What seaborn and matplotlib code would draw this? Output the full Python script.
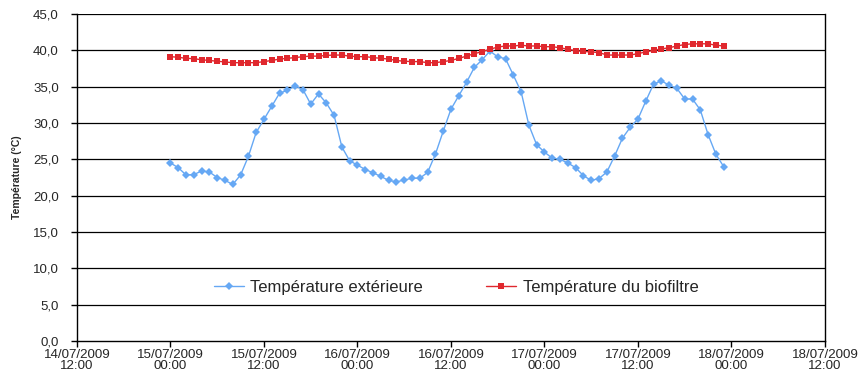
import matplotlib
matplotlib.use("Agg")
import matplotlib.pyplot as plt
import matplotlib.transforms as mtransforms
import seaborn as sns
import pandas as pd
import numpy as np

start = "2009-07-15 00:00"
n_hours = 72

temp_ext = [24.5, 23.85, 22.85, 22.9, 23.4, 23.25, 22.5, 22.1, 21.55, 22.85, 25.4, 28.7,
            30.5, 32.3, 34.1, 34.5, 35.1, 34.6, 32.6, 34.0, 32.75, 31.05, 26.7, 24.8,
            24.2, 23.6, 23.15, 22.65, 22.1, 21.9, 22.15, 22.4, 22.4, 23.2, 25.7, 28.85,
            31.9, 33.75, 35.6, 37.65, 38.7, 39.9, 39.1, 38.85, 36.6, 34.3, 29.7, 27.0,
            26.0, 25.15, 25.0, 24.5, 23.85, 22.75, 22.1, 22.35, 23.25, 25.45, 27.9, 29.4,
            30.55, 33.0, 35.35, 35.8, 35.2, 34.75, 33.3, 33.3, 31.8, 28.4, 25.7, 24.0]

temp_bio = [39.13, 39.04, 38.9, 38.85, 38.7, 38.6, 38.5, 38.4, 38.3, 38.3, 38.3, 38.3,
            38.45, 38.6, 38.8, 38.9, 39.0, 39.13, 39.2, 39.2, 39.3, 39.35, 39.35, 39.2,
            39.13, 39.13, 39.0, 38.9, 38.8, 38.6, 38.5, 38.45, 38.45, 38.3, 38.3, 38.45,
            38.6, 38.9, 39.2, 39.55, 39.8, 40.15, 40.45, 40.6, 40.6, 40.7, 40.6, 40.6,
            40.5, 40.5, 40.35, 40.15, 39.95, 39.85, 39.77, 39.7, 39.35, 39.35, 39.35, 39.35,
            39.55, 39.77, 40.0, 40.2, 40.35, 40.6, 40.8, 40.9, 40.9, 40.9, 40.7, 40.6]

label_ext = "Température extérieure"
label_bio = "Température du biofiltre"
y_label = "Température (°C)"
y_ticks = [0, 5, 10, 15, 20, 25, 30, 35, 40, 45]

times = pd.date_range(start, periods=n_hours, freq="h")
df = pd.DataFrame({"time": times, "ext": temp_ext, "bio": temp_bio})

sns.set_style("white")
plt.rcParams["font.family"] = ["Liberation Sans", "DejaVu Sans"]

fig = plt.figure(figsize=(8.58, 3.74), dpi=100)
ax = fig.add_axes([0.0897, 0.0882, 0.9615 - 0.0897, 0.9626 - 0.0882])

sns.lineplot(data=df, x="time", y="ext", ax=ax, color="#66A8F4", marker="D",
             markersize=4.5, markeredgewidth=0, linewidth=1.0, label=label_ext)
sns.lineplot(data=df, x="time", y="bio", ax=ax, color="#E0282E", marker="s",
             markersize=5, markeredgewidth=0, linewidth=1.0, label=label_bio)

x0 = pd.Timestamp("2009-07-14 12:00")
x1 = pd.Timestamp("2009-07-18 12:00")
ax.set_xlim(x0, x1)
ax.set_ylim(0, 45)
ax.set_yticks(y_ticks)
ax.set_yticklabels([f"{v:.1f}".replace(".", ",") for v in y_ticks], fontsize=9.5)
xt = pd.date_range(x0, x1, freq="12h")
ax.set_xticks(xt)
xlabels = ax.set_xticklabels([t.strftime("%d/%m/%Y\n%H:%M") for t in xt], fontsize=9.6,
                             linespacing=0.9)
last = xlabels[-1]
last.set_transform(last.get_transform() +
                   mtransforms.ScaledTranslation(-4 / 100, 0, fig.dpi_scale_trans))

for v in y_ticks[1:]:
    ax.axhline(v, color="black", linewidth=0.9, zorder=0)

ax.spines["top"].set_visible(False)
for s in ["left", "bottom", "right"]:
    ax.spines[s].set_color("black")
    ax.spines[s].set_linewidth(1.0)

ax.tick_params(axis="both", direction="out", length=4, width=1, color="black",
               bottom=True, left=True)
ax.tick_params(axis="x", pad=1.5)
ax.tick_params(axis="y", pad=9)
ax.set_xlabel("")
ax.set_ylabel(y_label, fontsize=7.5, fontweight="bold", labelpad=8)

leg = ax.legend(loc="center", bbox_to_anchor=(0.507, 0.165), ncol=2, frameon=False,
                fontsize=12, columnspacing=3.8, handlelength=1.8, handletextpad=0.4)

fig.savefig("out.png", dpi=100)
